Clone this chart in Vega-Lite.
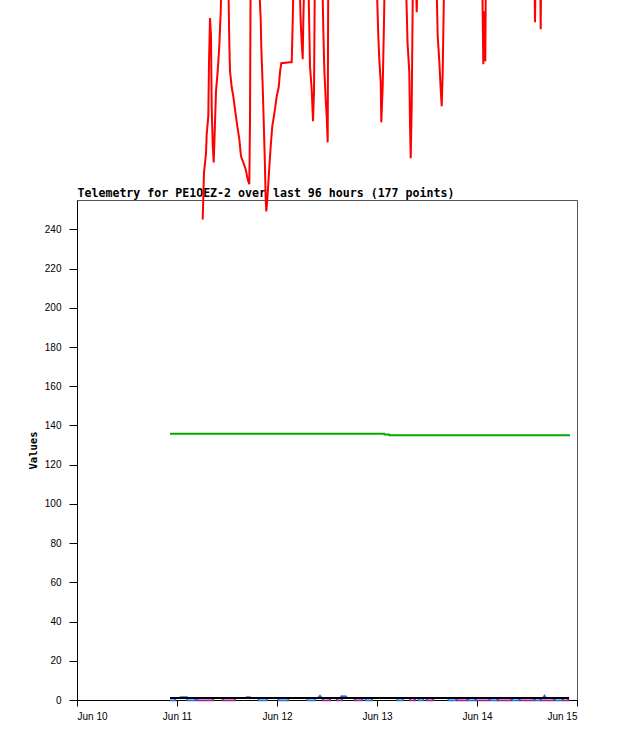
{
  "$schema": "https://vega.github.io/schema/vega-lite/v6.json",
  "autosize": {"type": "none"},
  "width": 500,
  "height": 500,
  "padding": {"left": 77, "top": 200, "right": 41, "bottom": 41},
  "background": "white",
  "config": {
    "view": {"stroke": "#555555", "strokeWidth": 1},
    "axis": {"grid": false, "domainColor": "black", "tickColor": "black", "labelFont": "Liberation Sans", "labelFontSize": 10, "labelColor": "black", "titleFont": "DejaVu Sans Mono", "titleFontWeight": "bold", "titleFontSize": 10.5, "titleColor": "black", "tickSize": 7}
  },
  "datasets": {
    "red": [
      {"d": 11.257, "v": 245.1}, {"d": 11.27, "v": 269.1}, {"d": 11.29, "v": 278.8}, {"d": 11.297, "v": 288.5},
      {"d": 11.313, "v": 297.7}, {"d": 11.32, "v": 325.3}, {"d": 11.33, "v": 347.8}, {"d": 11.34, "v": 338.6},
      {"d": 11.347, "v": 302.3}, {"d": 11.357, "v": 283.4}, {"d": 11.367, "v": 274.2}, {"d": 11.377, "v": 289.5},
      {"d": 11.39, "v": 310.5}, {"d": 11.407, "v": 320.7}, {"d": 11.423, "v": 333.4}, {"d": 11.437, "v": 350.8},
      {"d": 11.45, "v": 378}, {"d": 11.51, "v": 378}, {"d": 11.523, "v": 335.5}, {"d": 11.53, "v": 320.7},
      {"d": 11.547, "v": 312.5}, {"d": 11.563, "v": 307.9}, {"d": 11.58, "v": 301.3}, {"d": 11.603, "v": 292.6},
      {"d": 11.623, "v": 286.0}, {"d": 11.64, "v": 277.3}, {"d": 11.663, "v": 274.2}, {"d": 11.687, "v": 270.6},
      {"d": 11.707, "v": 265.5}, {"d": 11.723, "v": 263.0}, {"d": 11.73, "v": 295.2}, {"d": 11.737, "v": 378},
      {"d": 11.81, "v": 378}, {"d": 11.837, "v": 347.2}, {"d": 11.843, "v": 332.9}, {"d": 11.857, "v": 313.0},
      {"d": 11.867, "v": 295.2}, {"d": 11.877, "v": 277.3}, {"d": 11.887, "v": 255.3}, {"d": 11.893, "v": 249.2},
      {"d": 11.903, "v": 255.3}, {"d": 11.92, "v": 269.1}, {"d": 11.937, "v": 282.4}, {"d": 11.953, "v": 292.6},
      {"d": 11.98, "v": 301.3}, {"d": 11.997, "v": 307.9}, {"d": 12.017, "v": 312.5}, {"d": 12.03, "v": 320.2},
      {"d": 12.043, "v": 324.8}, {"d": 12.13, "v": 325.3}, {"d": 12.147, "v": 325.3}, {"d": 12.157, "v": 345.7},
      {"d": 12.17, "v": 378}, {"d": 12.22, "v": 378}, {"d": 12.237, "v": 345.7}, {"d": 12.247, "v": 335.5},
      {"d": 12.257, "v": 326.8}, {"d": 12.263, "v": 345.7}, {"d": 12.277, "v": 378}, {"d": 12.31, "v": 378},
      {"d": 12.33, "v": 323.2}, {"d": 12.347, "v": 311.5}, {"d": 12.36, "v": 295.2}, {"d": 12.37, "v": 310.0},
      {"d": 12.38, "v": 378}, {"d": 12.45, "v": 378}, {"d": 12.463, "v": 342.1}, {"d": 12.473, "v": 321.7},
      {"d": 12.487, "v": 306.4}, {"d": 12.497, "v": 297.7}, {"d": 12.507, "v": 284.4}, {"d": 12.513, "v": 378},
      {"d": 12.99, "v": 378}, {"d": 13.013, "v": 338.6}, {"d": 13.023, "v": 326.8}, {"d": 13.037, "v": 315.1},
      {"d": 13.043, "v": 294.6}, {"d": 13.057, "v": 313.0}, {"d": 13.07, "v": 345.7}, {"d": 13.08, "v": 378},
      {"d": 13.28, "v": 378}, {"d": 13.297, "v": 352.3}, {"d": 13.305, "v": 335.5}, {"d": 13.323, "v": 320.2},
      {"d": 13.33, "v": 294.6}, {"d": 13.337, "v": 276.3}, {"d": 13.347, "v": 302.8}, {"d": 13.357, "v": 355.9},
      {"d": 13.365, "v": 378}, {"d": 13.385, "v": 378}, {"d": 13.397, "v": 350.8}, {"d": 13.41, "v": 378},
      {"d": 13.59, "v": 378}, {"d": 13.607, "v": 338.6}, {"d": 13.623, "v": 325.8}, {"d": 13.637, "v": 311.5},
      {"d": 13.647, "v": 302.8}, {"d": 13.657, "v": 320.2}, {"d": 13.667, "v": 353.4}, {"d": 13.675, "v": 378},
      {"d": 14.05, "v": 378}, {"d": 14.063, "v": 324.3}, {"d": 14.073, "v": 351.3}, {"d": 14.083, "v": 325.8},
      {"d": 14.09, "v": 378}, {"d": 14.573, "v": 378}, {"d": 14.58, "v": 345.7}, {"d": 14.587, "v": 378},
      {"d": 14.63, "v": 378}, {"d": 14.637, "v": 342.1}, {"d": 14.643, "v": 378}, {"d": 14.92, "v": 378}
    ],
    "green": [
      {"d": 10.93, "v": 135.8}, {"d": 13.073, "v": 135.8}, {"d": 13.075, "v": 135.4},
      {"d": 13.12, "v": 135.4}, {"d": 13.123, "v": 135.0}, {"d": 14.93, "v": 135.0}
    ],
    "blue": [
      {"d": 10.93, "v": -0.2}, {"d": 10.98, "v": -0.2}, {"d": 10.985, "v": 1.0}, {"d": 11.03, "v": 1.0}, {"d": 11.035, "v": 1.5},
      {"d": 11.1, "v": 1.5}, {"d": 11.105, "v": -0.2}, {"d": 11.18, "v": -0.2}, {"d": 11.185, "v": 1.0}, {"d": 11.69, "v": 1.0},
      {"d": 11.695, "v": 1.5}, {"d": 11.73, "v": 1.5}, {"d": 11.735, "v": 1.0}, {"d": 11.81, "v": 1.0}, {"d": 11.815, "v": -0.2},
      {"d": 11.9, "v": -0.2}, {"d": 11.905, "v": 1.0}, {"d": 12.01, "v": 1.0}, {"d": 12.015, "v": -0.2}, {"d": 12.11, "v": -0.2},
      {"d": 12.115, "v": 1.0}, {"d": 12.3, "v": 1.0}, {"d": 12.305, "v": -0.2}, {"d": 12.38, "v": -0.2}, {"d": 12.385, "v": 1.0},
      {"d": 12.41, "v": 1.0}, {"d": 12.43, "v": 2.2}, {"d": 12.45, "v": 1.0}, {"d": 12.63, "v": 1.0}, {"d": 12.645, "v": 2.0},
      {"d": 12.69, "v": 1.8}, {"d": 12.7, "v": 1.0}, {"d": 12.88, "v": 1.0}, {"d": 12.885, "v": -0.2}, {"d": 12.95, "v": -0.2},
      {"d": 12.955, "v": 1.0}, {"d": 13.2, "v": 1.0}, {"d": 13.205, "v": -0.2}, {"d": 13.26, "v": -0.2}, {"d": 13.265, "v": 1.0},
      {"d": 13.41, "v": 1.0}, {"d": 13.415, "v": -0.2}, {"d": 13.46, "v": -0.2}, {"d": 13.465, "v": 1.0}, {"d": 13.71, "v": 1.0},
      {"d": 13.715, "v": -0.2}, {"d": 13.79, "v": -0.2}, {"d": 13.795, "v": 1.0}, {"d": 13.91, "v": 1.0}, {"d": 13.915, "v": -0.2},
      {"d": 13.98, "v": -0.2}, {"d": 13.985, "v": 1.0}, {"d": 14.13, "v": 1.0}, {"d": 14.135, "v": -0.2}, {"d": 14.2, "v": -0.2},
      {"d": 14.205, "v": 1.0}, {"d": 14.35, "v": 1.0}, {"d": 14.355, "v": -0.2}, {"d": 14.42, "v": -0.2}, {"d": 14.425, "v": 1.0},
      {"d": 14.58, "v": 1.0}, {"d": 14.585, "v": -0.2}, {"d": 14.63, "v": -0.2}, {"d": 14.635, "v": 1.0}, {"d": 14.66, "v": 1.0},
      {"d": 14.675, "v": 2.2}, {"d": 14.69, "v": 1.0}, {"d": 14.78, "v": 1.0}, {"d": 14.785, "v": -0.2}, {"d": 14.85, "v": -0.2},
      {"d": 14.855, "v": 1.0}, {"d": 14.92, "v": 1.0}
    ],
    "purple": [
      {"d": 10.93, "v": 1.0}, {"d": 11.195, "v": 1.0}, {"d": 11.2, "v": -0.2}, {"d": 11.36, "v": -0.2}, {"d": 11.365, "v": 1.0},
      {"d": 11.455, "v": 1.0}, {"d": 11.46, "v": -0.2}, {"d": 11.58, "v": -0.2}, {"d": 11.585, "v": 1.0}, {"d": 12.455, "v": 1.0},
      {"d": 12.46, "v": -0.2}, {"d": 12.53, "v": -0.2}, {"d": 12.535, "v": 1.0}, {"d": 12.595, "v": 1.0}, {"d": 12.6, "v": -0.2},
      {"d": 12.65, "v": -0.2}, {"d": 12.655, "v": 1.0}, {"d": 12.775, "v": 1.0}, {"d": 12.78, "v": -0.2}, {"d": 12.85, "v": -0.2},
      {"d": 12.855, "v": 1.0}, {"d": 13.325, "v": 1.0}, {"d": 13.33, "v": -0.2}, {"d": 13.38, "v": -0.2}, {"d": 13.385, "v": 1.0},
      {"d": 13.495, "v": 1.0}, {"d": 13.5, "v": -0.2}, {"d": 13.56, "v": -0.2}, {"d": 13.565, "v": 1.0}, {"d": 13.795, "v": 1.0},
      {"d": 13.8, "v": -0.2}, {"d": 13.9, "v": -0.2}, {"d": 13.905, "v": 1.0}, {"d": 13.985, "v": 1.0}, {"d": 13.99, "v": -0.2},
      {"d": 14.12, "v": -0.2}, {"d": 14.125, "v": 1.0}, {"d": 14.205, "v": 1.0}, {"d": 14.21, "v": -0.2}, {"d": 14.34, "v": -0.2},
      {"d": 14.345, "v": 1.0}, {"d": 14.425, "v": 1.0}, {"d": 14.43, "v": -0.2}, {"d": 14.57, "v": -0.2}, {"d": 14.575, "v": 1.0},
      {"d": 14.635, "v": 1.0}, {"d": 14.64, "v": -0.2}, {"d": 14.77, "v": -0.2}, {"d": 14.775, "v": 1.0}, {"d": 14.855, "v": 1.0},
      {"d": 14.86, "v": -0.2}, {"d": 14.91, "v": -0.2}, {"d": 14.915, "v": 1.0}
    ],
    "black": [
      {"d": 10.93, "v": 1.0}, {"d": 11.5, "v": 1.0}, {"d": 12.0, "v": 1.0}, {"d": 12.5, "v": 1.0},
      {"d": 13.0, "v": 1.0}, {"d": 13.5, "v": 1.0}, {"d": 14.0, "v": 1.0}, {"d": 14.5, "v": 1.0}, {"d": 14.92, "v": 1.0}
    ]
  },
  "encoding": {
    "y": {"field": "v", "type": "quantitative", "scale": {"domain": [0, 255], "nice": false, "zero": true},
      "axis": {"title": "Values", "values": [0, 20, 40, 60, 80, 100, 120, 140, 160, 180, 200, 220, 240], "labelPadding": 8, "tickSize": 8, "titlePadding": 6}}
  },
  "resolve": {"axis": {"x": "independent"}},
  "layer": [
    {"data": {"name": "red"}, "mark": {"type": "line", "color": "#ff0000", "strokeWidth": 2, "clip": false},
      "encoding": {"x": {"field": "d", "type": "quantitative", "scale": {"domain": [10, 15], "nice": false, "zero": false},
        "axis": {"title": null, "values": [10, 11, 12, 13, 14, 15], "labelExpr": "'Jun ' + datum.value", "labelPadding": 5, "tickSize": 6}}}},
    {"data": {"name": "green"}, "mark": {"type": "line", "color": "#00aa00", "strokeWidth": 2},
      "encoding": {"x": {"field": "d", "type": "quantitative",
        "axis": {"orient": "top", "domain": false, "ticks": false, "labels": false, "title": "Telemetry for PE1OEZ-2 over last 96 hours (177 points)", "titleFont": "DejaVu Sans Mono", "titleFontWeight": "bold", "titleFontSize": 11.6, "titleAlign": "left", "titleAnchor": "start", "titleBaseline": "alphabetic", "titleX": 0, "titleY": -4}}}},
    {"data": {"name": "blue"}, "mark": {"type": "line", "color": "#1a78e0", "strokeWidth": 1.8},
      "encoding": {"x": {"field": "d", "type": "quantitative", "axis": null}}},
    {"data": {"name": "purple"}, "mark": {"type": "line", "color": "#a020a0", "strokeWidth": 1.8},
      "encoding": {"x": {"field": "d", "type": "quantitative", "axis": null}}},
    {"data": {"name": "black"}, "mark": {"type": "line", "color": "#000000", "strokeWidth": 2},
      "encoding": {"x": {"field": "d", "type": "quantitative", "axis": null}}}
  ]
}
